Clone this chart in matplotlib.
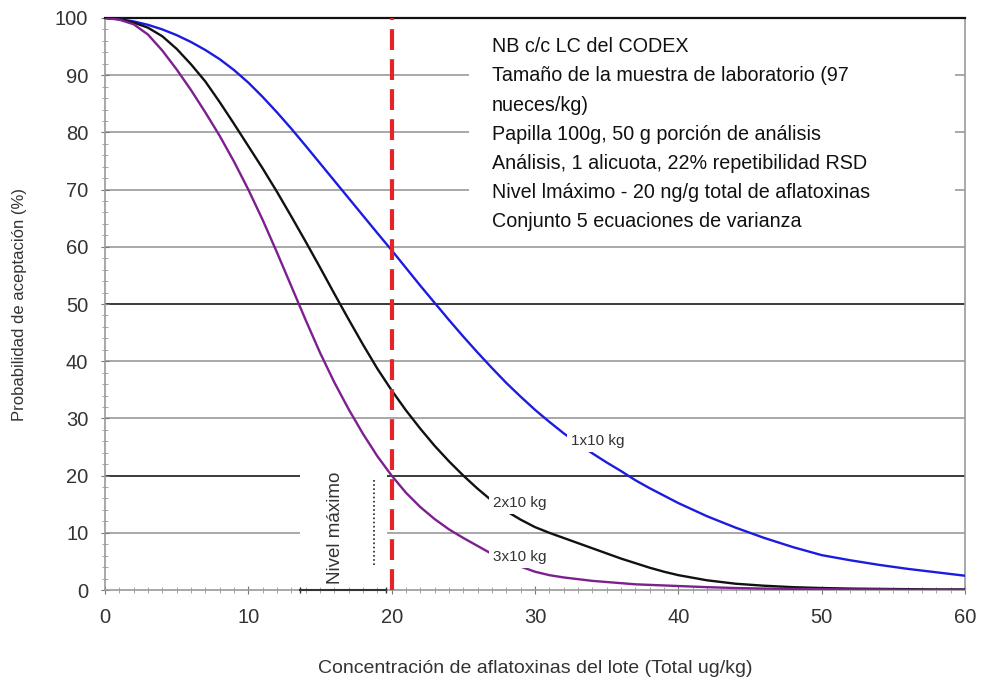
import numpy as np
import matplotlib
matplotlib.use("Agg")
from matplotlib import pyplot as plt
from matplotlib.patches import Rectangle

plt.rcParams['font.family'] = ['Liberation Sans', 'DejaVu Sans']

# concentration (ug/kg)
conc = list(range(0, 41)) + list(range(42, 61, 2))

# acceptance probability (%) per sample size
p_1x10 = [100, 99.8, 99.4, 98.8, 98.0, 97.0, 95.8, 94.4, 92.8, 90.9,
          88.7, 86.2, 83.5, 80.65, 77.65, 74.6, 71.55, 68.5, 65.45, 62.4,
          59.4, 56.3, 53.2, 50.2, 47.2, 44.3, 41.5, 38.8, 36.2, 33.8,
          31.5, 29.4, 27.4, 25.6, 23.9, 22.3, 20.8, 19.2, 17.8, 16.5,
          15.2, 12.9, 10.9, 9.1, 7.5, 6.1, 5.2, 4.4, 3.7, 3.1, 2.5]
p_2x10 = [100, 99.8, 99.2, 98.3, 96.8, 94.6, 91.9, 88.9, 85.3, 81.5,
          77.6, 73.7, 69.6, 65.3, 60.9, 56.4, 51.8, 47.3, 42.9, 38.7,
          34.9, 31.4, 28.2, 25.2, 22.5, 20.0, 17.7, 15.6, 13.8, 12.3,
          11.0, 10.0, 9.1, 8.2, 7.3, 6.4, 5.5, 4.7, 3.9, 3.2,
          2.6, 1.7, 1.1, 0.75, 0.5, 0.35, 0.25, 0.2, 0.15, 0.1, 0.1]
p_3x10 = [100, 99.7, 98.9, 97.1, 94.3, 91.0, 87.4, 83.5, 79.4, 74.9,
          70.0, 64.7, 59.0, 53.1, 47.2, 41.5, 36.3, 31.6, 27.3, 23.4,
          20.0, 17.0, 14.5, 12.4, 10.6, 9.1, 7.7, 6.3, 5.1, 4.1,
          3.2, 2.6, 2.2, 1.9, 1.6, 1.4, 1.2, 1.0, 0.9, 0.8,
          0.7, 0.5, 0.35, 0.25, 0.2, 0.15, 0.1, 0.1, 0.05, 0.05, 0.05]

series = [("1x10 kg", p_1x10, "#1c1ce0"),
          ("2x10 kg", p_2x10, "#111111"),
          ("3x10 kg", p_3x10, "#7d1f8f")]
label_pos = {"1x10 kg": (32.5, 26.0),
             "2x10 kg": (27.1, 15.2),
             "3x10 kg": (27.1, 5.8)}

max_level = 20
notes = ["NB c/c LC del CODEX",
         "Tamaño de la muestra de laboratorio (97",
         "nueces/kg)",
         "Papilla 100g, 50 g porción de análisis",
         "Análisis, 1 alicuota, 22% repetibilidad RSD",
         "Nivel lmáximo - 20 ng/g total de aflatoxinas",
         "Conjunto 5 ecuaciones de varianza"]

fig = plt.figure(figsize=(9.84, 6.86), dpi=100)
ax = fig.add_axes([0.1067, 0.1399, 0.8740, 0.8339])
ax.set_xlim(0, 60)
ax.set_ylim(0, 100)

for v in range(10, 100, 10):
    dark = v in (20, 50)
    ax.axhline(v, color="#3a3a3a" if dark else "#a8a8a8", lw=1.4, zorder=1)

# white panels hiding the grid behind the notes
ax.add_patch(Rectangle((25.4, 63.5), 33.9, 36.4, facecolor="white",
                       edgecolor="none", zorder=1.5))
ax.add_patch(Rectangle((13.6, 0.4), 6.1, 22.0, facecolor="white",
                       edgecolor="none", zorder=1.5))

for name, vals, col in series:
    ax.plot(conc, vals, color=col, lw=1.7, zorder=3)
    lx, ly = label_pos[name]
    ax.text(lx, ly, name, fontsize=11, color="#333333", va="center", ha="left",
            zorder=4, bbox=dict(facecolor="white", edgecolor="none", pad=3))

ax.axvline(max_level, color="#e52428", lw=3, dashes=(5, 2.2), zorder=5)

# "Nivel máximo" marker
ax.text(16.1, 1.0, "Nivel máximo", rotation=90, fontsize=13.5, color="#333333",
        ha="center", va="bottom", zorder=4)
ax.plot([18.8, 18.8], [4.4, 19.6], color="#222222", lw=1.2, ls=(0, (1, 1.5)), zorder=4)
ax.plot([13.6, 19.6], [0, 0], color="#333333", lw=1.5, marker="|", ms=5,
        zorder=6, clip_on=False)

ax.text(27.0, 96.6, "\n".join(notes), fontsize=14.2, color="#111111",
        ha="left", va="top", linespacing=1.67, zorder=4)

for side in ("left", "bottom", "right"):
    ax.spines[side].set_color("#9a9a9a")
    ax.spines[side].set_linewidth(1.2)
ax.spines["top"].set_color("#111111")
ax.spines["top"].set_linewidth(1.6)

ax.set_xticks(range(0, 61, 10))
ax.set_xticks(range(0, 61, 1), minor=True)
ax.set_yticks(range(0, 101, 10))
ax.set_yticks(range(0, 101, 2), minor=True)
ax.tick_params(axis="both", which="major", labelsize=14.5, labelcolor="#333333",
               color="#777777", length=6, direction="inout")
ax.tick_params(axis="both", which="minor", color="#999999", length=4, direction="inout")
ax.tick_params(axis="x", pad=10)
ax.tick_params(axis="y", pad=9)

ax.set_xlabel("Concentración de aflatoxinas del lote (Total ug/kg)", fontsize=14,
              color="#333333", labelpad=24)
ax.set_ylabel("Probabilidad de aceptación (%)", fontsize=12, color="#333333",
              labelpad=20)

fig.savefig("out.png", dpi=100, facecolor="white")
